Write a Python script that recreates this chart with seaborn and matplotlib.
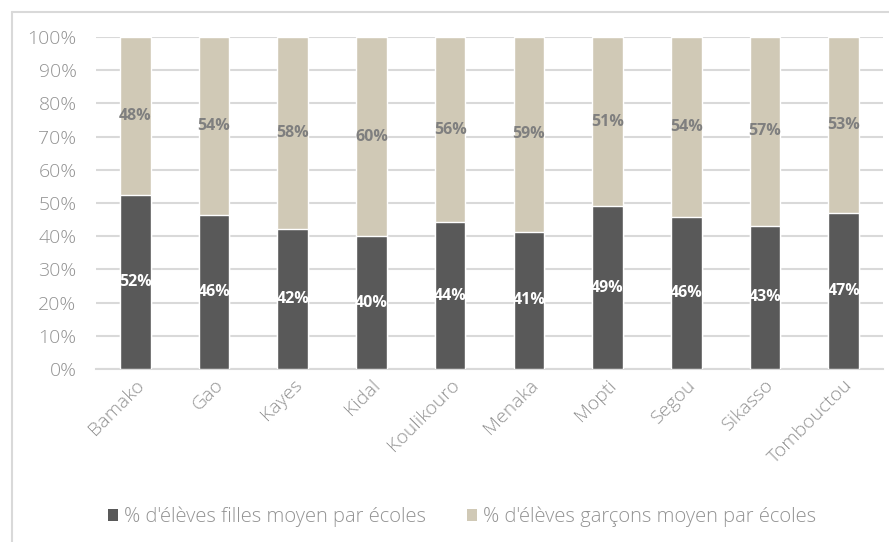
import numpy as np
import matplotlib
matplotlib.use('Agg')
import matplotlib.pyplot as plt
import pandas as pd
import seaborn as sns
from matplotlib.patches import Patch
from matplotlib.lines import Line2D

regions = ['Bamako', 'Gao', 'Kayes', 'Kidal', 'Koulikouro', 'Menaka', 'Mopti', 'Segou', 'Sikasso', 'Tombouctou']
filles = [52.4, 46.3, 42.2, 40.0, 44.2, 41.4, 49.0, 45.8, 43.1, 47.0]
garcons = [47.6, 53.7, 57.8, 60.0, 55.8, 58.6, 51.0, 54.2, 56.9, 53.0]
serie_labels = ["% d'élèves filles moyen par écoles", "% d'élèves garçons moyen par écoles"]

df = pd.DataFrame({'region': regions, 'filles': filles, 'garcons': garcons})
df['total'] = df['filles'] + df['garcons']

sns.set_style('white')
plt.rcParams['font.family'] = ['Open Sans', 'DejaVu Sans']

col_f = '#595959'
col_g = '#d0c9b6'
grid_c = '#d9d9d9'
txt_c = '#939393'

W, H = 889, 542
fig = plt.figure(figsize=(W / 100, H / 100), dpi=100)
ax = fig.add_axes([96 / W, 1 - 369 / H, (883 - 96) / W, (369 - 37) / H])

sns.barplot(data=df, x='region', y='total', color=col_g, width=0.39, saturation=1, ax=ax, zorder=2)
sns.barplot(data=df, x='region', y='filles', color=col_f, width=0.39, saturation=1, ax=ax, zorder=3)

# labels in the middle of each segment
for i in range(len(regions)):
    ax.text(i, filles[i] / 2, '%d%%' % round(filles[i]), ha='center', va='center',
            color='white', fontsize=11.5, fontweight='bold', zorder=4)
    ax.text(i, filles[i] + garcons[i] / 2, '%d%%' % round(garcons[i]), ha='center', va='center',
            color='#7f7f7f', fontsize=11.5, fontweight='bold', zorder=4)

ax.set_ylim(0, 100)
ax.set_xlim(-0.5, len(regions) - 0.5)
ax.set_yticks(np.arange(0, 101, 10))
ax.set_yticklabels(['%d%%' % v for v in range(0, 101, 10)])
ax.yaxis.grid(True, color=grid_c, linewidth=1.5, zorder=0)
ax.set_axisbelow(True)
for s in ['top', 'right', 'left']:
    ax.spines[s].set_visible(False)
ax.spines['bottom'].set_color(grid_c)
ax.spines['bottom'].set_linewidth(1.5)
ax.set_xlabel('')
ax.set_ylabel('')

ax.set_xticks(np.arange(-0.5, len(regions), 1), minor=True)
ax.tick_params(axis='x', which='minor', length=6, color=grid_c, width=1.2)
ax.tick_params(axis='x', which='major', length=0, pad=5)
ax.tick_params(axis='y', length=0, pad=14)
ax.set_xticks(range(len(regions)))
ax.set_xticklabels(regions, rotation=45, ha='right', rotation_mode='anchor')
for lab in ax.get_xticklabels() + ax.get_yticklabels():
    lab.set_color(txt_c)
    lab.set_fontsize(14)
    lab.set_fontweight('light')

handles = [Patch(facecolor=col_f, edgecolor='none'), Patch(facecolor=col_g, edgecolor='none')]
leg = fig.legend(handles, serie_labels, loc='center', bbox_to_anchor=(462 / W, 1 - 517 / H), ncol=2,
                 frameon=False, fontsize=14.5, labelcolor=txt_c, handlelength=0.5, handleheight=0.5,
                 handletextpad=0.3, columnspacing=2.0)
for t in leg.get_texts():
    t.set_fontweight('light')

# outer chart border (left and top edges only visible)
fig.add_artist(Line2D([12 / W, 12 / W], [0, 1 - 12 / H], color=grid_c, linewidth=1.5))
fig.add_artist(Line2D([12 / W, 1], [1 - 12 / H, 1 - 12 / H], color=grid_c, linewidth=1.5))

fig.savefig('out.png', dpi=100)
